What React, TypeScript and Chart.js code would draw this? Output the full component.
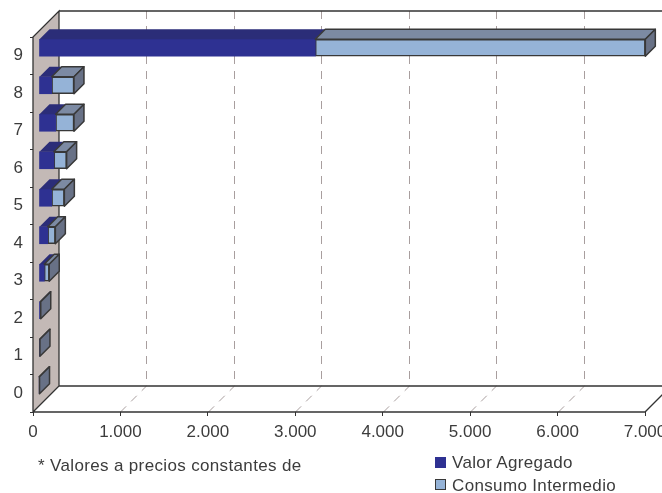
import React, { useEffect, useRef } from 'react';
import { Chart, registerables } from 'chart.js';

Chart.register(...registerables);

const categories = ['0', '1', '2', '3', '4', '5', '6', '7', '8', '9'];
const valorAgregado = [2, 8, 15, 60, 100, 145, 170, 190, 145, 3160];
const consumoIntermedio = [4, 3, 5, 57, 87, 145, 146, 210, 255, 3775];
const xTickValues = [0, 1000, 2000, 3000, 4000, 5000, 6000, 7000];
const seriesNames = ['Valor Agregado', 'Consumo Intermedio'];
const footnote = '* Valores a precios constantes de';

const X_MAX = 7000;
const WALL = 26;
const SX = 6;
const SY = -8;
const BD = 10;
const FONT = "'Liberation Sans', Arial, sans-serif";

const fmt = (v: number) => String(v).replace(/\B(?=(\d{3})+(?!\d))/g, '.');

function poly(ctx: CanvasRenderingContext2D, pts: number[][], fill: string, stroke: string | null) {
  ctx.beginPath();
  ctx.moveTo(pts[0][0], pts[0][1]);
  for (let i = 1; i < pts.length; i++) ctx.lineTo(pts[i][0], pts[i][1]);
  ctx.closePath();
  ctx.fillStyle = fill;
  ctx.fill();
  if (stroke) {
    ctx.strokeStyle = stroke;
    ctx.lineWidth = 1.5;
    ctx.lineJoin = 'round';
    ctx.stroke();
  }
}

const frame3d = {
  id: 'frame3d',
  beforeDatasetsDraw(chart: any) {
    const { ctx, chartArea, scales } = chart;
    const { left, top, bottom } = chartArea;
    const x = scales.x;
    ctx.save();
    // left wall
    ctx.fillStyle = '#c3b9b6';
    ctx.beginPath();
    ctx.moveTo(left, top);
    ctx.lineTo(left + WALL, top - WALL);
    ctx.lineTo(left + WALL, bottom - WALL);
    ctx.lineTo(left, bottom);
    ctx.closePath();
    ctx.fill();
    // dashed gridlines
    ctx.strokeStyle = '#a89e9e';
    ctx.lineWidth = 1;
    ctx.setLineDash([8, 7]);
    xTickValues.forEach((v) => {
      if (v === 0) return;
      const px = Math.round(x.getPixelForValue(v)) + 0.5;
      ctx.beginPath();
      ctx.moveTo(px + WALL, top - WALL);
      ctx.lineTo(px + WALL, bottom - WALL);
      ctx.stroke();
      if (v !== X_MAX) {
        ctx.beginPath();
        ctx.moveTo(px, bottom);
        ctx.lineTo(px + WALL, bottom - WALL);
        ctx.stroke();
      }
    });
    ctx.setLineDash([]);
    // solid frame
    ctx.strokeStyle = '#333333';
    ctx.lineWidth = 1.3;
    const rx = x.getPixelForValue(X_MAX);
    ctx.beginPath();
    ctx.moveTo(left + WALL, top - WALL);
    ctx.lineTo(rx + WALL, top - WALL);
    ctx.moveTo(left + WALL, bottom - WALL);
    ctx.lineTo(rx + WALL, bottom - WALL);
    ctx.moveTo(left, bottom);
    ctx.lineTo(rx, bottom);
    ctx.lineTo(rx + WALL, bottom - WALL);
    ctx.moveTo(left, bottom);
    ctx.lineTo(left, top);
    ctx.lineTo(left + WALL, top - WALL);
    ctx.lineTo(left + WALL, bottom - WALL);
    ctx.lineTo(left, bottom);
    ctx.stroke();
    ctx.restore();
    ctx.save();
    ctx.translate(SX, SY);
  },
  afterDatasetsDraw(chart: any) {
    const ctx = chart.ctx;
    const m0 = chart.getDatasetMeta(0);
    const m1 = chart.getDatasetMeta(1);
    m0.data.forEach((el0: any, i: number) => {
      const el1 = m1.data[i];
      const p0 = el0.getProps(['x', 'y', 'base', 'height'], true);
      const p1 = el1.getProps(['x', 'y', 'base', 'height'], true);
      const h = p0.height;
      const t = p0.y - h / 2;
      poly(ctx, [[p0.base, t], [p0.base + BD, t - BD], [p0.x + BD, t - BD], [p0.x, t]], '#2b2d78', null);
      poly(ctx, [[p1.base, t], [p1.base + BD, t - BD], [p1.x + BD, t - BD], [p1.x, t]], '#7c8aa3', '#383838');
      poly(ctx, [[p1.x, t], [p1.x + BD, t - BD], [p1.x + BD, t - BD + h], [p1.x, t + h]], '#687186', '#383838');
    });
    ctx.restore();
  },
};

export default function App() {
  const ref = useRef<HTMLCanvasElement | null>(null);

  useEffect(() => {
    if (!ref.current) return;
    const chart = new Chart(ref.current, {
      type: 'bar',
      data: {
        labels: categories,
        datasets: [
          {
            label: seriesNames[0],
            data: valorAgregado,
            backgroundColor: '#2E3192',
            borderWidth: 0,
            barThickness: 17,
            clip: false as any,
          },
          {
            label: seriesNames[1],
            data: consumoIntermedio,
            backgroundColor: '#95B3D7',
            borderColor: '#383838',
            borderWidth: 1.5,
            borderSkipped: false,
            barThickness: 17,
            clip: false as any,
          },
        ],
      },
      options: {
        indexAxis: 'y',
        animation: false,
        responsive: true,
        maintainAspectRatio: false,
        layout: { padding: { top: 37, right: 55, left: 0, bottom: 0 } },
        plugins: { legend: { display: false }, tooltip: { enabled: false } },
        scales: {
          x: {
            type: 'linear',
            stacked: true,
            min: 0,
            max: X_MAX,
            afterFit: (s: any) => {
              s.height = 81;
            },
            afterBuildTicks: (s: any) => {
              s.ticks = xTickValues.map((v) => ({ value: v }));
            },
            grid: { drawOnChartArea: false, drawTicks: true, tickLength: 4, color: '#333333', lineWidth: 1 },
            border: { display: false },
            ticks: {
              padding: 6,
              color: '#3c3c3c',
              font: { family: FONT, size: 17 },
              callback: (v: any) => fmt(Number(v)),
              maxRotation: 0,
              autoSkip: false,
            },
          },
          y: {
            type: 'category',
            stacked: true,
            reverse: true,
            afterFit: (s: any) => {
              s.width = 33;
            },
            grid: { drawOnChartArea: false, offset: true, drawTicks: true, tickLength: 3, color: '#333333', lineWidth: 1 },
            border: { display: false },
            ticks: {
              padding: 7,
              color: '#3c3c3c',
              font: { family: FONT, size: 17 },
            },
          },
        },
      },
      plugins: [frame3d],
    });
    return () => chart.destroy();
  }, []);

  const text: React.CSSProperties = {
    position: 'absolute',
    fontFamily: FONT,
    fontSize: 17,
    lineHeight: '20px',
    letterSpacing: '0.35px',
    color: '#3c3c3c',
    whiteSpace: 'nowrap',
  };

  return (
    <div style={{ position: 'fixed', left: 0, top: 0, width: 662, height: 493, overflow: 'hidden', background: '#fff' }}>
      <div style={{ position: 'absolute', left: 0, top: 0, width: 700, height: 493 }}>
        <canvas ref={ref} />
      </div>
      <div style={{ ...text, left: 38, top: 456 }}>{footnote}</div>
      <div style={{ position: 'absolute', left: 435, top: 457, width: 11, height: 11, background: '#2E3192' }} />
      <div style={{ ...text, left: 452, top: 453 }}>{seriesNames[0]}</div>
      <div
        style={{
          position: 'absolute',
          left: 435,
          top: 479,
          width: 11,
          height: 11,
          boxSizing: 'border-box',
          border: '1.5px solid #383838',
          background: '#95B3D7',
        }}
      />
      <div style={{ ...text, left: 452, top: 476 }}>{seriesNames[1]}</div>
    </div>
  );
}
